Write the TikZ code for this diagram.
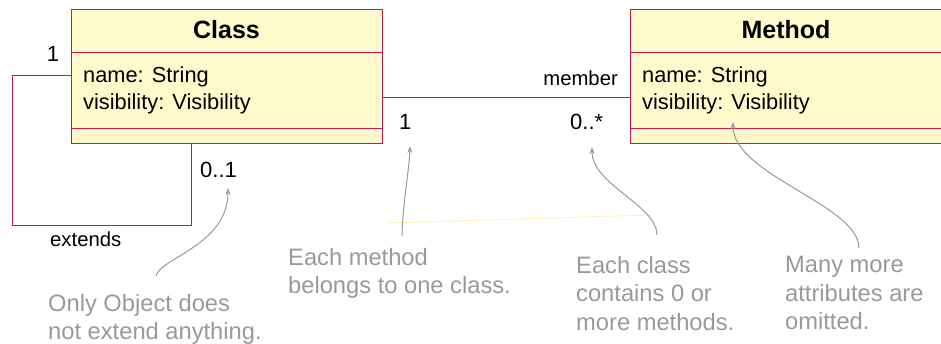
\documentclass[tikz,border=0pt]{standalone}
\usepackage{fontspec}
\setmainfont{Liberation Sans}
\usetikzlibrary{arrows.meta}
\definecolor{umlborder}{HTML}{C8174A}
\definecolor{umlfill}{HTML}{FFF9CC}
\definecolor{notegray}{HTML}{999999}
\definecolor{faintyellow}{HTML}{FFF3B8}
\tikzset{
  umlbox/.style={draw=umlborder, fill=umlfill, line width=1pt, rectangle, inner sep=0pt, anchor=north west},
  umlline/.style={draw=umlborder, line width=1pt},
  assoc/.style={draw=umlborder, line width=1pt},
  titletext/.style={inner sep=0pt, anchor=base, font=\fontsize{25}{30}\selectfont\bfseries},
  attrtext/.style={inner sep=0pt, anchor=base west, font=\fontsize{21.8}{26.7}\selectfont},
  multtext/.style={inner sep=0pt, font=\fontsize{22}{26}\selectfont},
  roletext/.style={inner sep=0pt, font=\fontsize{20.3}{24}\selectfont},
  notetext/.style={inner sep=0pt, anchor=north west, align=left, text=notegray, font=\fontsize{23.7}{28.5}\selectfont},
  notearrow/.style={draw=notegray, line width=1pt, -{Stealth[length=7pt,width=5pt]}},
}
\begin{document}
\begin{tikzpicture}[x=1pt,y=-1pt]
\useasboundingbox (0,0) rectangle (941,344);

% faint stray line
\draw[faintyellow, line width=1pt] (388,223) -- (650,215);

% Class box
\node[umlbox, minimum width=311pt, minimum height=134pt] (class) at (71,9) {};
\draw[umlline] (71,53) -- (382,53);
\draw[umlline] (71,129) -- (382,129);
\node[titletext] (classtitle) at (226.5,39) {Class};
\node[attrtext] (classa1) at (83,83) {name: String};
\node[attrtext] (classa2) at (83,110) {visibility: Visibility};

% Method box
\node[umlbox, minimum width=312pt, minimum height=134pt] (method) at (630,9) {};
\draw[umlline] (630,53) -- (942,53);
\draw[umlline] (630,129) -- (942,129);
\node[titletext] (methodtitle) at (786,39) {Method};
\node[attrtext] (methoda1) at (642,83) {name: String};
\node[attrtext] (methoda2) at (642,110) {visibility: Visibility};

% self association (extends)
\coordinate (selfstart) at (71,76);
\coordinate (selfend) at (191,143);
\draw[assoc] (selfstart) -- (12,76) |- (191,226) -- (selfend);
\node[multtext, anchor=base] (mult1) at (53,62) {1};
\node[multtext, anchor=base west] (mult01) at (200,178) {0..1};
\node[roletext, anchor=base west] (extends) at (50,247) {extends};

% member association
\coordinate (memA) at (382,98);
\coordinate (memB) at (630,98);
\draw[assoc] (memA) -- (memB);
\node[roletext, anchor=base east] (member) at (618,86) {member};
\node[multtext, anchor=base west] (multc) at (399,130) {1};
\node[multtext, anchor=base west] (multm) at (570,130) {0..*};

% notes
\node[notetext] (note1) at (48,294) {Only Object does\\not extend anything.};
\node[notetext] (note2) at (288,248) {Each method\\belongs to one class.};
\node[notetext] (note3) at (576,256) {Each class\\contains 0 or\\more methods.};
\node[notetext] (note4) at (785,256) {Many more\\attributes are\\omitted.};

\coordinate (a1s) at (156,276);
\coordinate (a1e) at (228,188);
\draw[notearrow] (a1s) .. controls (160,258) and (228,245) .. (a1e);
\coordinate (a2s) at (402,236);
\coordinate (a2e) at (410,146);
\draw[notearrow] (a2s) .. controls (403,200) and (409,172) .. (a2e);
\coordinate (a3s) at (657,235);
\coordinate (a3e) at (592,147);
\draw[notearrow] (a3s) .. controls (657,205) and (592,185) .. (a3e);
\coordinate (a4s) at (859,248);
\coordinate (a4e) at (733,122);
\draw[notearrow] (a4s) .. controls (859,205) and (733,175) .. (a4e);
\end{tikzpicture}
\end{document}
